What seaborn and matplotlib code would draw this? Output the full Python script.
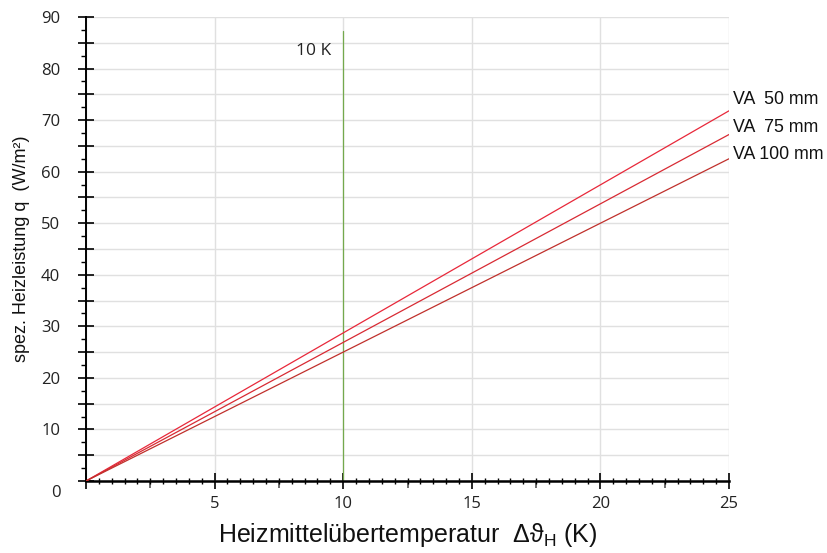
import numpy as np
import pandas as pd
import matplotlib
matplotlib.use("Agg")
import matplotlib.pyplot as plt
import matplotlib.transforms as mtransforms
from matplotlib.ticker import MultipleLocator, FixedLocator, FuncFormatter
import seaborn as sns

# Heat output of the floor heating per installation spacing (VA)
delta_t = [0, 25]
q_va50 = [0, 71.8]
q_va75 = [0, 67.2]
q_va100 = [0, 62.5]
series_labels = ["VA  50 mm", "VA  75 mm", "VA 100 mm"]
series_colors = ["#e8283a", "#d82a33", "#c0302c"]

# reference mark at 10 K
ref_x = [10, 10]
ref_y = [0, 87.3]

sns.set_theme(style="white")
plt.rcParams["font.family"] = ["Open Sans", "DejaVu Sans"]

df = pd.DataFrame({
    "dt": delta_t * 3,
    "q": q_va50 + q_va75 + q_va100,
    "va": [series_labels[0]] * 2 + [series_labels[1]] * 2 + [series_labels[2]] * 2,
})

fig = plt.figure(figsize=(8.27, 5.53), dpi=100)
ax = fig.add_axes([0.104, 0.1302, 0.7775, 0.8391])

sns.lineplot(data=df, x="dt", y="q", hue="va", palette=series_colors,
             linewidth=0.9, legend=False, ax=ax, zorder=3)
sns.lineplot(x=ref_x, y=ref_y, estimator=None, sort=False, color="#74a94c",
             linewidth=0.9, ax=ax, zorder=2)

ax.set_xlim(0, 25)
ax.set_ylim(0, 90)

# grid
ax.grid(True, color="#e0e0e0", linewidth=1.0, zorder=0)
ax.set_axisbelow(True)

# spines
for s in ["top", "right"]:
    ax.spines[s].set_visible(False)
ax.spines["left"].set_color("black")
ax.spines["left"].set_linewidth(1.4)
ax.spines["bottom"].set_color("black")
ax.spines["bottom"].set_linewidth(1.8)

# x ticks
ax.xaxis.set_major_locator(MultipleLocator(5))
ax.xaxis.set_minor_locator(MultipleLocator(0.5))
ax.xaxis.set_major_formatter(FuncFormatter(lambda v, p: "" if v == 0 else f"{v:g}"))
ax.tick_params(axis="x", which="both", bottom=True)
ax.tick_params(axis="x", which="major", direction="inout", length=11, width=1.2,
               color="black", labelsize=12, pad=5, labelcolor="#222222")
ax.tick_params(axis="x", which="minor", direction="inout", length=4, width=1.0, color="black")
sec_x = ax.secondary_xaxis(0)
sec_x.set_xticks([2.5, 7.5, 12.5, 17.5, 22.5])
sec_x.tick_params(bottom=True, direction="out", length=5, width=1.2, color="#555555",
                  labelbottom=False)
sec_x.spines["bottom"].set_visible(False)

# y ticks
ax.yaxis.set_major_locator(MultipleLocator(5))
ax.yaxis.set_minor_locator(FixedLocator(np.arange(2.5, 90, 5)))
ax.yaxis.set_major_formatter(FuncFormatter(lambda v, p: f"{v:g}" if v % 10 == 0 else ""))
ax.tick_params(axis="y", which="both", left=True)
ax.tick_params(axis="y", which="major", direction="inout", length=11, width=1.2,
               color="black", labelsize=12, pad=13, labelcolor="#222222")
ax.tick_params(axis="y", which="minor", direction="out", length=3.5, width=1.0, color="black")
fig.canvas.draw()
for tick in ax.yaxis.get_major_ticks():
    v = tick.get_loc()
    if v % 10 != 0:
        tick.tick1line.set_color("#666666")
    if v == 0:
        tick.label1.set_transform(tick.label1.get_transform() +
                                  mtransforms.ScaledTranslation(0, -7 / 72, fig.dpi_scale_trans))

# labels
ax.set_xlabel("Heizmittelübertemperatur  Δϑ$_\\mathregular{H}$ (K)",
              family=["Liberation Sans", "DejaVu Sans"], fontsize=18, color="#111111",
              labelpad=7)
ax.set_ylabel("spez. Heizleistung q  (W/m²)", family=["Liberation Sans", "DejaVu Sans"],
              fontsize=13, color="#111111", labelpad=8)

# series labels at the right end
label_y = [73.9, 68.6, 63.4]
for lab, yy in zip(series_labels, label_y):
    ax.text(25.15, yy, lab, family=["Liberation Sans", "DejaVu Sans"], fontsize=12.8,
            va="center", ha="left", color="#111111", clip_on=False)

ax.text(9.55, 83.4, "10 K", fontsize=12.5, ha="right", va="center", color="#222222")

fig.savefig("out.png", dpi=100)
